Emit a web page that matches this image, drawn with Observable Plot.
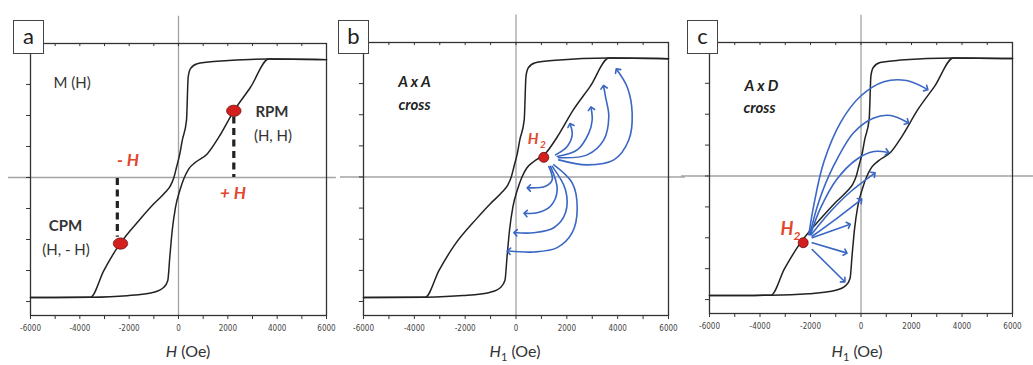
<!DOCTYPE html>
<html><head><meta charset="utf-8">
<script src="https://cdn.jsdelivr.net/npm/d3@7"></script>
<script src="https://cdn.jsdelivr.net/npm/@observablehq/plot@0.6"></script>
<style>
body{margin:0;background:#fff;}
#fig{position:relative;width:1033px;height:365px;overflow:hidden;font-family:Lato,"Open Sans",sans-serif;}
#fig svg{position:absolute;top:0;}
.tag{position:absolute;top:20px;width:29px;height:32px;border:1.5px solid #444;background:#fff;font:22px Lato,sans-serif;color:#222;text-align:center;line-height:30px;}
.xt{position:absolute;top:341px;width:140px;font:16px Lato,sans-serif;color:#333;text-align:center;}
.xt sub{font-size:11px;}
</style></head><body><div id="fig"></div>
<script>
// ---------- data ----------
const xTicksMajor = [-6000, -4000, -2000, 0, 2000, 4000, 6000];
const xTicksMinor = [-6000, -5000, -4000, -3000, -2000, -1000, 0, 1000, 2000, 3000, 4000, 5000, 6000];
const yTicks = [-4, -3, -2, -1, 0, 1, 2, 3, 4];

// hysteresis loop M(H): descending (upper) branch and ascending (lower) branch, listed by increasing H
const upperH = [-6000, -3567, -3028, -2420, -1540, -1001, -527, -324, -190, -81, 53, 150, 324, 393, 486, 758, 1569, 3648, 6000];
const upperM = [-3.87, -3.86, -3.00, -2.19, -1.33, -0.85, -0.47, -0.26, -0.01, 0.33, 0.76, 1.19, 1.84, 3.24, 3.51, 3.67, 3.75, 3.82, 3.80];
const lowerH = [-6000, -3567, -2080, -1001, -596, -434, -353, -255, -122, 53, 215, 418, 689, 1163, 1634, 2242, 2919, 3661, 6000];
const lowerM = [-3.87, -3.86, -3.81, -3.70, -3.54, -3.32, -2.57, -1.71, -0.96, -0.42, -0.04, 0.28, 0.49, 0.76, 1.30, 2.14, 2.91, 3.82, 3.80];

// panel a markers
const rpmPoint = [2242, 2.15];
const cpmPoint = [-2351, -2.13];
const rpmDash = [2242, 1.95, 0];
const cpmDash = [-2480, -0.03, -1.93];

// panel b: H2 point and arrow paths (H, M)
const h2PointB = [1094, 0.63];
const arrowsB = {
  U1: [[1554,0.71],[2014,0.98],[2211,1.35],[2144,1.67]],
  U2: [[1621,0.66],[2408,0.87],[2864,1.41],[2998,1.83],[2958,2.20]],
  U3: [[1672,0.62],[2801,0.71],[3454,1.19],[3651,1.94],[3521,2.58],[3454,2.89]],
  U4: [[1684,0.55],[2801,0.39],[3848,0.55],[4438,1.19],[4571,2.04],[4375,2.89],[3981,3.43]],
  L1: [[1290,0.34],[1424,-0.09],[1161,-0.30],[504,-0.35]],
  L2: [[1357,0.34],[1621,-0.41],[1357,-0.94],[834,-1.15],[374,-1.17]],
  L3: [[1424,0.34],[1947,-0.41],[1947,-1.15],[1487,-1.63],[700,-1.79],[-20,-1.79]],
  L4: [[1487,0.39],[2211,-0.19],[2408,-1.04],[2211,-1.79],[1621,-2.27],[700,-2.41],[-283,-2.38]]
};

// panel c: H2 point and arrow paths (H, M)
const h2PointC = [-2289, -2.16];
const arrowsC = {
  A1: [[-2067,-1.90],[-1869,-0.94],[-1473,0.45],[-812,1.73],[-20,2.58],[903,3.05],[1802,3.09],[2594,2.82]],
  A2: [[-2028,-1.90],[-1671,-0.83],[-1077,0.34],[-285,1.41],[507,1.88],[1168,1.96],[1830,1.74]],
  A3: [[-2000,-1.90],[-1604,-1.04],[-942,-0.09],[-150,0.55],[507,0.79],[1038,0.77]],
  A4: [[-1972,-1.90],[-1208,-1.15],[-416,-0.51],[507,0.07]],
  S1: [[-1932,-1.95],[-942,-1.36],[-20,-0.78]],
  S2: [[-1932,-2.00],[-483,-1.58]],
  S3: [[-1932,-2.16],[-614,-2.48]],
  S4: [[-1932,-2.38],[-681,-3.39]]
};

// text annotations (anchor in data units)
const labelsA = [
  {t:"M (H)", H:-5067, M:3.03, w:"normal", s:"normal", c:"#333", a:"start", f:15},
  {t:"RPM", H:3790, M:2.10, w:"bold", s:"normal", c:"#333", a:"middle", f:15},
  {t:"(H, H)", H:3830, M:1.32, w:"normal", s:"normal", c:"#333", a:"middle", f:15},
  {t:"CPM", H:-4580, M:-1.56, w:"bold", s:"normal", c:"#333", a:"middle", f:15},
  {t:"(H, - H)", H:-4560, M:-2.35, w:"normal", s:"normal", c:"#333", a:"middle", f:15},
  {t:"- H", H:-2047, M:0.55, w:"bold", s:"italic", c:"#e2462c", a:"middle", f:17},
  {t:"+ H", H:2209, M:-0.53, w:"bold", s:"italic", c:"#e2462c", a:"middle", f:17}
];
const labelsB = [
  {t:"A x A", H:-3993, M:3.06, w:"bold", s:"italic", c:"#222", a:"middle", f:15},
  {t:"cross", H:-3993, M:2.31, w:"bold", s:"italic", c:"#222", a:"middle", f:15},
  {t:"H", H:669, M:1.22, w:"bold", s:"italic", c:"#e2462c", a:"middle", f:15},
  {t:"2", H:1062, M:1.03, w:"bold", s:"italic", c:"#e2462c", a:"middle", f:10}
];
const labelsC = [
  {t:"A x D", H:-3940, M:2.92, w:"bold", s:"italic", c:"#222", a:"middle", f:15},
  {t:"cross", H:-4019, M:2.20, w:"bold", s:"italic", c:"#222", a:"middle", f:15},
  {t:"H", H:-2930, M:-1.71, w:"bold", s:"italic", c:"#e2462c", a:"middle", f:18},
  {t:"2", H:-2534, M:-1.94, w:"bold", s:"italic", c:"#e2462c", a:"middle", f:12}
];

// ---------- build ----------
const loopRows = [
  ...upperH.map((h, i) => ({branch: "upper", H: h, M: upperM[i]})),
  ...lowerH.map((h, i) => ({branch: "lower", H: h, M: lowerM[i]}))
];
const toRows = obj => Object.entries(obj).flatMap(([id, pts]) => pts.map(([H, M]) => ({id, H, M})));

const ellipse = {
  draw(ctx, size) {
    const r = Math.sqrt(size / Math.PI), rx = r * 1.2, ry = r * 0.93, k = 0.5523;
    ctx.moveTo(rx, 0);
    ctx.bezierCurveTo(rx, ry * k, rx * k, ry, 0, ry);
    ctx.bezierCurveTo(-rx * k, ry, -rx, ry * k, -rx, 0);
    ctx.bezierCurveTo(-rx, -ry * k, -rx * k, -ry, 0, -ry);
    ctx.bezierCurveTo(rx * k, -ry, rx, -ry * k, rx, 0);
    ctx.closePath();
  }
};

const YD = [-4.45, 4.32];
const gray = "#a3a3a3", blue = "#3a66c4", red = "#d3201e";

function base(extra, hx1, hx2) {
  return [
    Plot.ruleY([0], {x1: hx1, x2: hx2, stroke: gray, strokeWidth: 1.3}),
    Plot.ruleX([0], {y1: YD[0], y2: 5.2, stroke: gray, strokeWidth: 1.3}),
    Plot.frame({stroke: "#333", strokeWidth: 1.3}),
    Plot.ruleX(xTicksMinor, {y1: YD[1], y2: YD[1] - 0.1, stroke: "#333"}),
    Plot.ruleX(xTicksMinor, {y1: YD[0], y2: YD[0] - 0.13, stroke: "#333"}),
    Plot.ruleY(yTicks, {x1: -6000, x2: -6160, stroke: "#333"}),
    Plot.text(xTicksMajor, {x: d => d, y: YD[0], dy: 13, text: d => String(d), fontSize: 8,
      fontFamily: "'Liberation Sans Narrow','DejaVu Sans Condensed',sans-serif", fill: "#444"}),
    Plot.line(loopRows, {x: "H", y: "M", z: "branch", curve: "monotone-x", stroke: "#222", strokeWidth: 1.5}),
    ...extra
  ];
}
function labels(arr) {
  return ["normal", "bold"].flatMap(w => ["normal", "italic"].flatMap(s => [15, 17, 18, 10, 12].flatMap(f => ["start", "middle"].map(a => {
    const d = arr.filter(l => l.w === w && l.s === s && l.f === f && l.a === a);
    return d.length ? Plot.text(d, {x: "H", y: "M", text: "t", fill: "c", fontWeight: w, fontStyle: s, fontSize: f, textAnchor: a,
      fontFamily: "Lato,'Open Sans',sans-serif"}) : null;
  })))).filter(Boolean);
}

const panelA = Plot.plot({
  width: 340, height: 365, marginLeft: 30, marginRight: 14, marginTop: 43, marginBottom: 50,
  x: {domain: [-6000, 6000], axis: null}, y: {domain: YD, axis: null},
  style: {background: "transparent", overflow: "visible"},
  marks: base([
    Plot.ruleX([rpmDash], {x: d => d[0], y1: d => d[1], y2: d => d[2], stroke: "#222", strokeWidth: 3.2, strokeDasharray: "7,4.5"}),
    Plot.ruleX([cpmDash], {x: d => d[0], y1: d => d[1], y2: d => d[2], stroke: "#222", strokeWidth: 3.2, strokeDasharray: "7,4.5"}),
    Plot.dot([rpmPoint, cpmPoint], {x: d => d[0], y: d => d[1], r: 6, symbol: ellipse, fill: red, stroke: "#6a1010", strokeWidth: 0.8}),
    ...labels(labelsA)
  ], -6890, 6400)
});
panelA.style.left = "0px";

const panelB = Plot.plot({
  width: 340, height: 365, marginLeft: 23, marginRight: 12, marginTop: 42, marginBottom: 50,
  x: {domain: [-6000, 6000], axis: null}, y: {domain: YD, axis: null},
  style: {background: "transparent", overflow: "visible"},
  marks: base([
    Plot.line(toRows(arrowsB), {x: "H", y: "M", z: "id", curve: "catmull-rom", stroke: blue, strokeWidth: 1.6, markerEnd: "arrow"}),
    Plot.dot([h2PointB], {x: d => d[0], y: d => d[1], r: 5, fill: red, stroke: "#6a1010", strokeWidth: 0.8}),
    ...labels(labelsB)
  ], -6904, 6668)
});
panelB.style.left = "340px";

const panelC = Plot.plot({
  width: 353, height: 365, marginLeft: 29, marginRight: 21, marginTop: 42, marginBottom: 52,
  x: {domain: [-6000, 6000], axis: null}, y: {domain: YD, axis: null},
  style: {background: "transparent", overflow: "visible"},
  marks: base([
    Plot.line(toRows(arrowsC), {x: "H", y: "M", z: "id", curve: "catmull-rom", stroke: blue, strokeWidth: 1.6, markerEnd: "arrow"}),
    Plot.dot([h2PointC], {x: d => d[0], y: d => d[1], r: 5, fill: red, stroke: "#6a1010", strokeWidth: 0.8}),
    ...labels(labelsC)
  ], -7108, 6831)
});
panelC.style.left = "680px";

const fig = document.getElementById("fig");
fig.append(panelA, panelB, panelC);

const tags = [["a", 13], ["b", 338], ["c", 687]];
for (const [t, left] of tags) {
  const d = document.createElement("div");
  d.className = "tag"; d.style.left = left + "px"; d.textContent = t;
  fig.append(d);
}
const titles = [["<i>H</i> (Oe)", 188], ["<i>H</i><sub>1</sub> (Oe)", 515], ["<i>H</i><sub>1</sub> (Oe)", 857]];
for (const [html, cx] of titles) {
  const d = document.createElement("div");
  d.className = "xt"; d.style.left = (cx - 70) + "px"; d.innerHTML = html;
  fig.append(d);
}
</script></body></html>
